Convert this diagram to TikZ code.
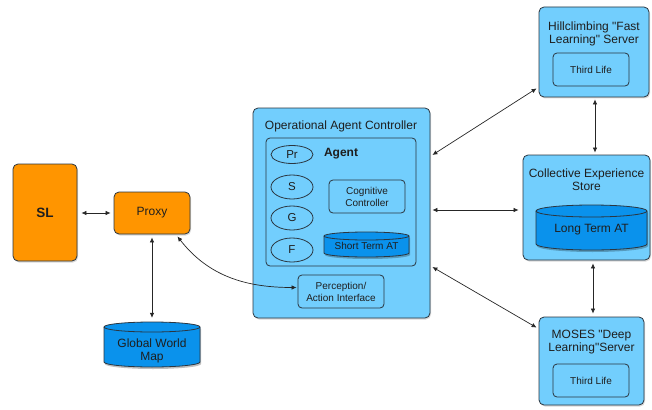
\documentclass[tikz,border=0pt]{standalone}
\usepackage{fontspec}
\setmainfont{Liberation Sans}
\usetikzlibrary{shadows,arrows.meta,shapes.geometric}

\definecolor{panel}{HTML}{72CEFD}
\definecolor{store}{HTML}{0A92EC}
\definecolor{orng}{HTML}{FF9500}
\definecolor{edge}{HTML}{2B3640}
\definecolor{ink}{HTML}{1E1E1E}

% database drum: left, top, right, bottom, cap half-height
\newcommand\dbcyl[5]{%
  \path[fill=black, opacity=.25, shift={(1,-2)}]
    ({#1},{-(#2+#5)}) -- ({#1},{-(#4-#5)})
    arc[start angle=180, end angle=360, x radius={(#3-#1)/2}, y radius={#5}]
    -- ({#3},{-(#2+#5)})
    arc[start angle=0, end angle=180, x radius={(#3-#1)/2}, y radius={#5}] -- cycle;
  \path[fill=store, draw=edge, line width=.8pt]
    ({#1},{-(#2+#5)}) -- ({#1},{-(#4-#5)})
    arc[start angle=180, end angle=360, x radius={(#3-#1)/2}, y radius={#5}]
    -- ({#3},{-(#2+#5)})
    arc[start angle=0, end angle=180, x radius={(#3-#1)/2}, y radius={#5}] -- cycle;
  \draw[edge, line width=.8pt] ({#1},{-(#2+#5)})
    arc[start angle=180, end angle=360, x radius={(#3-#1)/2}, y radius={#5}];
}
\newcommand\qt{\textquotedbl}

\tikzset{
  txt/.style={text=ink, inner sep=0pt, align=center, font=\fontsize{12}{13}\selectfont},
  small/.style={txt, font=\fontsize{10}{12}\selectfont},
  box/.style={draw=edge, line width=.8pt, rounded corners=5pt, inner sep=0pt,
    align=center, text=ink, font=\fontsize{12}{13}\selectfont,
    drop shadow={shadow xshift=1pt, shadow yshift=-1.5pt, opacity=.3}},
  panelbox/.style={box, fill=panel},
  orangebox/.style={box, fill=orng},
  innerbox/.style={draw=edge, line width=.8pt, rounded corners=4pt, inner sep=0pt,
    align=center, text=ink, font=\fontsize{10}{12}\selectfont},
  oval/.style={ellipse, draw=edge, line width=.8pt, inner sep=0pt, text=ink,
    minimum width=42pt, font=\fontsize{11.5}{13}\selectfont},
  link/.style={{Latex[length=5pt,width=4.5pt]}-{Latex[length=5pt,width=4.5pt]},
    line width=.7pt, draw=black!85},
}

\begin{document}
\begin{tikzpicture}[x=1pt, y=1pt]
\useasboundingbox (0,0) rectangle (652,-409);

% left column
\node[orangebox, minimum width=64pt, minimum height=97pt, font=\fontsize{13.5}{15}\selectfont\bfseries]
  (sl) at (45,-212.5) {SL};
\node[orangebox, minimum width=76pt, minimum height=42pt] (proxy) at (152,-213) {Proxy};
\dbcyl{104}{322}{200}{367}{5}
\node[txt, minimum width=96pt, minimum height=45pt] (gwm) at (152,-344.5) {};
\node[txt, font=\fontsize{12}{12.5}\selectfont] (gwmlbl) at (152,-351) {Global World\\Map};

% operational agent controller
\node[panelbox, minimum width=177pt, minimum height=210pt] (oac) at (341.5,-213) {};
\node[txt] (oactitle) at (341,-126.5) {Operational Agent Controller};
\node[innerbox, minimum width=150pt, minimum height=128pt] (agent) at (341,-202) {};
\node[txt, font=\fontsize{12}{13}\selectfont\bfseries] (agentlbl) at (341,-154) {Agent};
\node[oval, minimum height=18pt] (pr) at (292,-154.5) {Pr};
\node[oval, minimum height=24pt] (s) at (292,-187) {S};
\node[oval, minimum height=24pt] (g) at (292,-218) {G};
\node[oval, minimum height=24pt] (f) at (292,-250) {F};
\node[innerbox, minimum width=76pt, minimum height=33pt] (cog) at (367,-196.5) {Cognitive\\Controller};
\dbcyl{324}{232}{409}{257}{4}
\node[small, minimum width=85pt, minimum height=25pt] (stat) at (366.5,-246) {Short Term AT};
\node[innerbox, minimum width=86pt, minimum height=33pt] (percep) at (341,-291.5) {Perception/\\Action Interface};

% servers and store
\node[panelbox, minimum width=110pt, minimum height=90pt] (hill) at (594,-52) {};
\node[txt] (hilltitle) at (594,-34) {Hillclimbing \qt Fast\\Learning\qt\ Server};
\node[innerbox, minimum width=76pt, minimum height=33pt] (hilltl) at (591,-69.5) {Third Life};

\node[panelbox, minimum width=127pt, minimum height=105pt] (ces) at (586.5,-207.5) {};
\node[txt] (cestitle) at (586.5,-180) {Collective Experience\\Store};
\dbcyl{536}{205}{647}{250}{6}
\node[txt, minimum width=111pt, minimum height=45pt] (ltat) at (591.5,-230) {Long Term AT};

\node[panelbox, minimum width=105pt, minimum height=88pt] (moses) at (591.5,-361) {};
\node[txt] (mosestitle) at (591.5,-342) {MOSES \qt Deep\\Learning\qt Server};
\node[innerbox, minimum width=76pt, minimum height=33pt] (mosestl) at (591,-380.5) {Third Life};

% connectors
\draw[link, shorten <=4pt, shorten >=3pt] (sl.east |- proxy) -- (proxy.west);
\draw[link, shorten <=3pt, shorten >=4pt] (proxy.south) -- (gwm.north);
\draw[link] ([xshift=-13pt, yshift=-2pt]proxy.south east)
  to[out=-52, in=180] ([xshift=-1pt, yshift=4pt]percep.west);
\draw[link] ([xshift=2pt, yshift=58pt]oac.east) -- ([xshift=-2pt, yshift=9pt]hill.south west);
\draw[link] ([xshift=2pt, yshift=3pt]oac.east) -- ([xshift=-4pt]ces.west |- 0,-210);
\draw[link] ([xshift=2pt, yshift=-54pt]oac.east) -- ([xshift=-2pt, yshift=-11pt]moses.north west);
\draw[link, shorten <=2pt, shorten >=2pt] (hill.south -| 595,0) -- (ces.north -| 595,0);
\draw[link, shorten <=3pt, shorten >=3pt] (ces.south -| 593,0) -- (moses.north -| 593,0);
\end{tikzpicture}
\end{document}
